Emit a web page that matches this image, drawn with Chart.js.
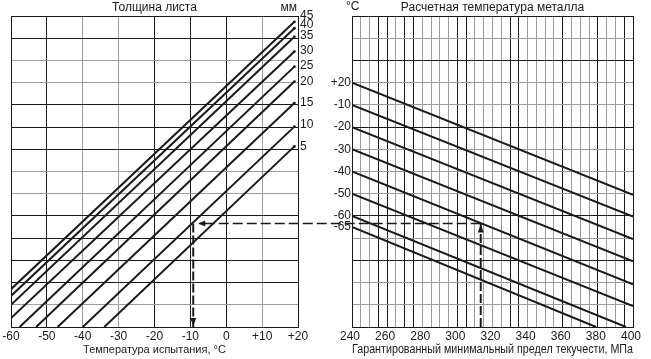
<!DOCTYPE html>
<html>
<head>
<meta charset="utf-8">
<title>Номограмма</title>
<script src="https://cdn.jsdelivr.net/npm/chart.js@4.4.1/dist/chart.umd.min.js"></script>
<style>
body { margin: 0; background: #fff; }
.wrap { position: relative; width: 651px; height: 359px; }
.wrap canvas { position: absolute; left: 0; top: 0; }
</style>
</head>
<body>
<div class="wrap">
  <canvas id="left-chart" width="651" height="359"></canvas>
  <canvas id="right-chart" width="651" height="359"></canvas>
</div>
<script>
// left panel: plate thickness lines (test temperature, grid row)
var thickness = [5, 10, 15, 20, 25, 30, 35, 40, 45];
var thickStartT = [-34, -40, -47, -53, -57.6, -60, -60, -60, -60];
var thickStartRow = [0, 0, 0, 0, 0, 0.4, 1.0, 1.4, 1.7];
var thickEndT = [19, 19, 19, 19, 19, 19, 19, 19, 19];
var thickEndRow = [8.13, 9.02, 10.08, 11.05, 11.72, 12.4, 13.07, 13.45, 13.74];
var thickLabelRow = [8.1, 9.1, 10.1, 11.05, 11.75, 12.45, 13.1, 13.6, 14];

// right panel: design metal temperature lines (yield strength, grid row)
var metalTemp = ['+20', '-10', '-20', '-30', '-40', '-50', '-60', '-65'];
var metalStartMpa = [240, 240, 240, 240, 240, 240, 240, 240];
var metalStartRow = [11, 10, 9, 8, 7, 6, 5, 4.5];
var metalEndMpa = [400, 400, 400, 400, 400, 400, 396, 379];
var metalEndRow = [5.95, 4.97, 3.96, 2.96, 1.92, 0.94, 0, 0];
var metalTickRow = [11, 10, 9, 8, 7, 6, 5, 4.5];

// worked example (dashed path)
var exampleMpa = 313.3;
var exampleRow = 4.66;
var exampleT = -9.2;

// which grid lines are drawn dark
var leftDarkT = [-60, -50, -20, -10, 0, 20];
var leftDarkRow = [0, 2, 3, 4, 5, 8, 9, 10, 13, 14];
var rightDarkMpa = [240, 255, 260, 270, 275, 300, 305, 330, 335, 360, 380, 395, 400];
var rightDarkRow = [0, 3, 5, 9, 12, 14];

var ink = '#1a1a1a';
var gray = '#9c9c9c';
Chart.defaults.font.family = '"Liberation Sans", Arial, sans-serif';
Chart.defaults.font.size = 12;
Chart.defaults.color = ink;

function lineSet(points) {
  return {
    data: points,
    showLine: true,
    borderColor: ink,
    borderWidth: 2,
    pointRadius: 0,
    fill: false
  };
}

var leftSets = thickness.map(function (mm, i) {
  var s = lineSet([{x: thickStartT[i], y: thickStartRow[i]}, {x: thickEndT[i], y: thickEndRow[i]}]);
  s.pointRadius = [0, 1.4];
  s.pointBackgroundColor = ink;
  s.pointBorderWidth = 0;
  return s;
});
var leftArrow = lineSet([{x: exampleT, y: exampleRow}, {x: exampleT, y: 0}]);
leftArrow.borderDash = [9, 3];
leftSets.push(leftArrow);

var rightSets = metalTemp.map(function (t, i) {
  return lineSet([{x: metalStartMpa[i], y: metalStartRow[i]}, {x: metalEndMpa[i], y: metalEndRow[i]}]);
});
var rightArrow = lineSet([{x: exampleMpa, y: 0}, {x: exampleMpa, y: exampleRow}]);
rightArrow.borderDash = [9, 3];
rightSets.push(rightArrow);

var leftText = {
  id: 'leftText',
  afterDraw: function (chart) {
    var ctx = chart.ctx, a = chart.chartArea;
    ctx.save();
    ctx.fillStyle = ink;
    ctx.font = '12px "Liberation Sans", Arial, sans-serif';
    ctx.textBaseline = 'middle';
    ctx.textAlign = 'center';
    ctx.fillText('Толщина листа', (a.left + a.right) / 2, 8);
    ctx.textAlign = 'right';
    ctx.fillText('мм', a.right - 1, 8);
    ctx.restore();
  }
};

var leftChart = new Chart(document.getElementById('left-chart'), {
  type: 'scatter',
  data: { datasets: leftSets },
  plugins: [leftText],
  options: {
    responsive: false,
    animation: false,
    layout: { padding: { left: 11, top: 16, right: 323, bottom: 0 } },
    plugins: { legend: { display: false }, tooltip: { enabled: false } },
    scales: {
      x: {
        type: 'linear', min: -60, max: 20,
        ticks: {
          stepSize: 10, autoSkip: false, maxRotation: 0, padding: 2,
          callback: function (v) { return v > 0 ? '+' + v : String(v); }
        },
        grid: {
          drawTicks: false,
          color: function (c) { return leftDarkT.indexOf(c.tick.value) >= 0 ? ink : gray; }
        },
        border: { color: ink },
        title: {
          display: true, text: 'Температура испытания, °C',
          font: { size: 11 }, padding: { top: 0, bottom: 2 }
        },
        afterFit: function (s) { s.height = 32; }
      },
      y: {
        type: 'linear', min: 0, max: 14,
        ticks: { stepSize: 1, display: false },
        grid: {
          drawTicks: false,
          color: function (c) { return leftDarkRow.indexOf(c.tick.value) >= 0 ? ink : gray; }
        },
        border: { color: ink },
        afterFit: function (s) { s.width = 0; }
      },
      y2: {
        type: 'linear', position: 'right', min: 0, max: 14,
        afterBuildTicks: function (s) {
          s.ticks = thickLabelRow.map(function (v) { return {value: v}; });
        },
        ticks: {
          autoSkip: false, padding: 2,
          callback: function (v, i) { return String(thickness[i]); }
        },
        grid: { display: false, drawTicks: false },
        border: { color: ink },
        afterFit: function (s) { s.width = 30; }
      }
    }
  }
});

var rightText = {
  id: 'rightText',
  afterDraw: function (chart) {
    var ctx = chart.ctx, a = chart.chartArea;
    var lx = leftChart.scales.x.getPixelForValue(exampleT);
    var rx = chart.scales.x.getPixelForValue(exampleMpa);
    var y = chart.scales.y.getPixelForValue(exampleRow);
    var lb = leftChart.chartArea.bottom;
    ctx.save();
    ctx.fillStyle = ink;
    ctx.font = '12px "Liberation Sans", Arial, sans-serif';
    ctx.textBaseline = 'middle';
    ctx.textAlign = 'center';
    ctx.fillText('Расчетная температура металла', (a.left + a.right) / 2, 8);
    ctx.textAlign = 'left';
    ctx.fillText('°C', a.left - 6, 7);

    // dashed connector between the two panels
    ctx.strokeStyle = ink;
    ctx.lineWidth = 1.3;
    ctx.setLineDash([10, 4]);
    ctx.beginPath();
    ctx.moveTo(rx, y);
    ctx.lineTo(lx + 6, y);
    ctx.stroke();
    ctx.setLineDash([]);

    // arrow heads
    ctx.beginPath();
    ctx.moveTo(lx + 5, y);
    ctx.lineTo(lx + 12, y - 3);
    ctx.lineTo(lx + 12, y + 3);
    ctx.closePath();
    ctx.fill();
    ctx.beginPath();
    ctx.moveTo(lx, lb - 1);
    ctx.lineTo(lx - 3, lb - 9);
    ctx.lineTo(lx + 3, lb - 9);
    ctx.closePath();
    ctx.fill();
    ctx.beginPath();
    ctx.moveTo(rx, y + 1);
    ctx.lineTo(rx - 3, y + 9);
    ctx.lineTo(rx + 3, y + 9);
    ctx.closePath();
    ctx.fill();
    ctx.restore();
  }
};

var rightChart = new Chart(document.getElementById('right-chart'), {
  type: 'scatter',
  data: { datasets: rightSets },
  plugins: [rightText],
  options: {
    responsive: false,
    animation: false,
    layout: { padding: { left: 322, top: 16, right: 18, bottom: 0 } },
    plugins: { legend: { display: false }, tooltip: { enabled: false } },
    scales: {
      x: {
        type: 'linear', min: 240, max: 400,
        ticks: {
          stepSize: 5, autoSkip: false, maxRotation: 0, padding: 2, labelOffset: -2,
          callback: function (v) { return v % 20 === 0 ? String(v) : ''; }
        },
        grid: {
          drawTicks: false,
          color: function (c) { return rightDarkMpa.indexOf(c.tick.value) >= 0 ? ink : gray; }
        },
        border: { color: ink },
        title: {
          display: true, text: 'Гарантированный минимальный предел текучести, МПа',
          font: { size: 12.5 }, padding: { top: 0, bottom: 2 }
        },
        afterFit: function (s) { s.height = 32; }
      },
      y: {
        type: 'linear', min: 0, max: 14,
        ticks: {
          stepSize: 0.5, autoSkip: false, padding: 1,
          callback: function (v) {
            var i = metalTickRow.indexOf(v);
            return i >= 0 ? metalTemp[i] : '';
          }
        },
        grid: {
          drawTicks: false,
          color: function (c) {
            var v = c.tick.value;
            if (v % 1 !== 0) return 'rgba(0,0,0,0)';
            return rightDarkRow.indexOf(v) >= 0 ? ink : gray;
          }
        },
        border: { color: ink },
        afterFit: function (s) { s.width = 30; }
      }
    }
  }
});
</script>
</body>
</html>
